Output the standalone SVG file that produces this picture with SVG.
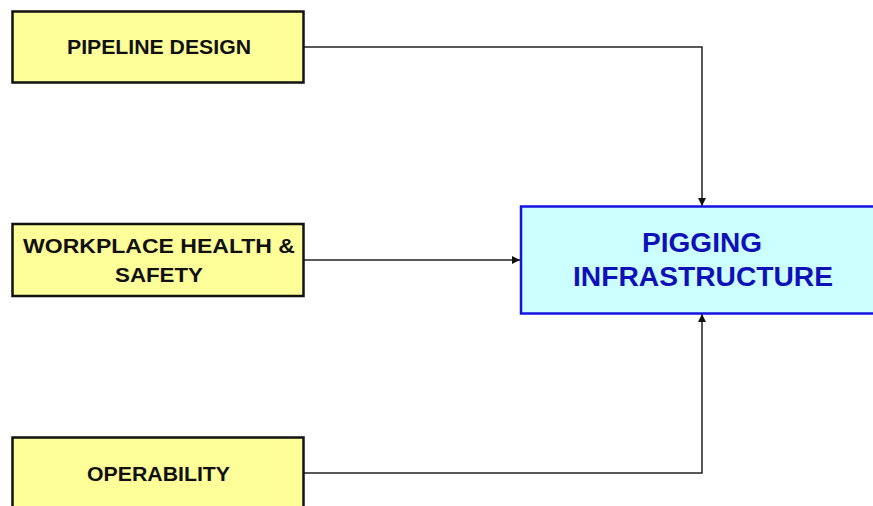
<svg xmlns="http://www.w3.org/2000/svg" width="873" height="506" viewBox="0 0 873 506">
<style>
.src rect{fill:#ffff99;stroke:#111;stroke-width:2.5}
.src text{font-family:"Liberation Sans",Arial,sans-serif;font-weight:bold;font-size:21px;fill:#111;text-anchor:middle}
#pigging rect{fill:#ccffff;stroke:#1515e0;stroke-width:2.5}
#pigging text{font-family:"Liberation Sans",Arial,sans-serif;font-weight:bold;font-size:27.5px;fill:#1010b8;text-anchor:middle}
#connectors path{fill:none;stroke:#222;stroke-width:1.5}
</style>
<defs>
<marker id="arr" viewBox="0 0 10 10" refX="10" refY="5" markerWidth="8" markerHeight="8" markerUnits="userSpaceOnUse" orient="auto">
<path d="M0,0 L10,5 L0,10 Z" fill="#111"/>
</marker>
</defs>
<rect width="873" height="506" fill="#fff"/>
<g id="connectors">
<path d="M304,47 H702 V206" marker-end="url(#arr)"/>
<path d="M304,260 H520" marker-end="url(#arr)"/>
<path d="M304,473 H702 V314" marker-end="url(#arr)"/>
</g>
<g id="pipeline-design" class="src">
<rect x="12.5" y="11.5" width="291" height="71"/>
<text x="159" y="54" textLength="184" lengthAdjust="spacingAndGlyphs">PIPELINE DESIGN</text>
</g>
<g id="workplace-health-safety" class="src">
<rect x="12.5" y="224" width="291" height="72"/>
<text x="159" y="253" textLength="272" lengthAdjust="spacingAndGlyphs">WORKPLACE HEALTH &amp;</text>
<text x="159" y="282" textLength="88" lengthAdjust="spacingAndGlyphs">SAFETY</text>
</g>
<g id="operability" class="src">
<rect x="12.5" y="437.5" width="291" height="80"/>
<text x="158.5" y="481" textLength="143" lengthAdjust="spacingAndGlyphs">OPERABILITY</text>
</g>
<g id="pigging">
<rect x="521" y="206.5" width="360" height="107"/>
<text x="702" y="252" textLength="120" lengthAdjust="spacingAndGlyphs">PIGGING</text>
<text x="703" y="286" textLength="260" lengthAdjust="spacingAndGlyphs">INFRASTRUCTURE</text>
</g>
</svg>
